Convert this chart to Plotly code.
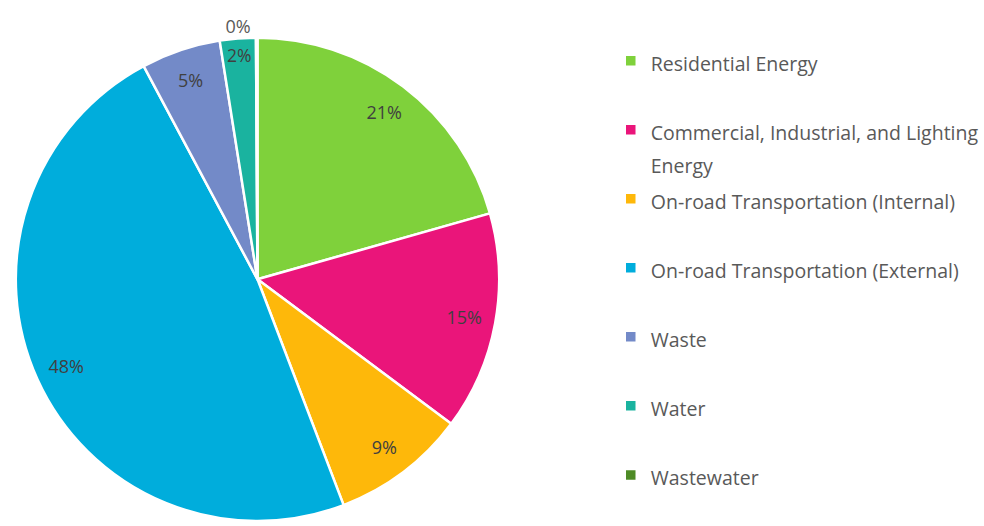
import plotly.graph_objects as go

categories = [
    "Residential Energy",
    "Commercial, Industrial, and Lighting<br>Energy",
    "On-road Transportation (Internal)",
    "On-road Transportation (External)",
    "Waste",
    "Water",
    "Wastewater",
]
values = [20.6, 14.6, 9.0, 48.0, 5.3, 2.4, 0.1]
colors = ["#7FD13B", "#EA157A", "#FEB80A", "#00ADDC", "#738AC8", "#1AB39F", "#4E8B26"]
text_positions = ["inside", "inside", "inside", "inside", "inside", "inside", "outside"]

# pad legend entries so each occupies two lines (equal spacing like the reference);
# the last entry needs no padding below it
legend_labels = []
for i, c in enumerate(categories):
    parts = c.split("<br>")
    styled = "<br>".join(
        "<span style='font-size:19.5px'>" + part + "</span>" for part in parts
    )
    pad = 0 if i == len(categories) - 1 else 2 - len(parts)
    legend_labels.append(styled + "<br> " * pad)

pie_domain = dict(x=[14 / 984, 502 / 984], y=[0, 488 / 526])

fig = go.Figure()
# visible pie with slices and legend
fig.add_trace(
    go.Pie(
        labels=legend_labels,
        values=values,
        sort=False,
        direction="clockwise",
        rotation=0,
        marker=dict(colors=colors, line=dict(color="white", width=2.5)),
        textinfo="none",
        hoverinfo="skip",
        domain=pie_domain,
    )
)
# transparent ring overlay carrying the percentage labels near the outer edge
fig.add_trace(
    go.Pie(
        labels=legend_labels,
        values=values,
        sort=False,
        direction="clockwise",
        rotation=0,
        hole=0.74,
        marker=dict(colors=["rgba(0,0,0,0)"] * len(values), line=dict(width=0)),
        texttemplate="%{percent:.0%}",
        textposition=text_positions,
        insidetextorientation="horizontal",
        textfont=dict(family="Open Sans", size=18, color="#404040"),
        outsidetextfont=dict(family="Open Sans", size=18, color="#595959"),
        hoverinfo="skip",
        showlegend=False,
        domain=pie_domain,
    )
)

fig.update_layout(
    width=984,
    height=526,
    margin=dict(l=0, r=0, t=0, b=0),
    paper_bgcolor="white",
    plot_bgcolor="white",
    showlegend=True,
    legend=dict(
        x=612 / 984,
        xanchor="left",
        y=1 - 38 / 526,
        yanchor="top",
        valign="top",
        font=dict(family="Open Sans", size=25.4, color="#595959"),
        bgcolor="rgba(0,0,0,0)",
    ),
)

fig.write_html("out.html")
